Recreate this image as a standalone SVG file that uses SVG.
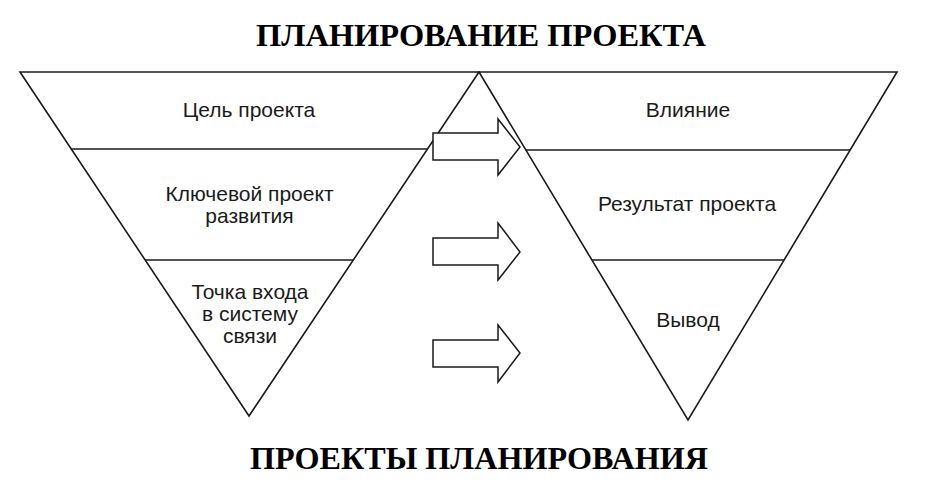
<svg xmlns="http://www.w3.org/2000/svg" width="927" height="488" viewBox="0 0 927 488">
<style>
.ln{fill:none;stroke:#1a1a1a;stroke-width:1.6;stroke-linejoin:miter}
.tri{fill:#fff;stroke:#1a1a1a;stroke-width:1.6;stroke-linejoin:miter}
.arr{fill:#fff;stroke:#1a1a1a;stroke-width:1.5;stroke-linejoin:miter}
.lbl{font-family:"Liberation Sans",Arial,sans-serif;font-size:21px;fill:#1a1a1a;text-anchor:middle}
.ttl{font-family:"Liberation Serif","Times New Roman",serif;font-size:32px;font-weight:bold;fill:#000;text-anchor:middle}
</style>
<rect width="927" height="488" fill="#fff"/>
<text class="ttl" x="481" y="46" textLength="450" lengthAdjust="spacingAndGlyphs">ПЛАНИРОВАНИЕ ПРОЕКТА</text>
<g id="left-triangle">
<polygon class="tri" points="20,72 479,72 249,416"/>
<line class="ln" x1="71" y1="149" x2="428" y2="149"/>
<line class="ln" x1="145" y1="260" x2="353" y2="260"/>
</g>
<g id="right-triangle">
<polygon class="tri" points="479,72 897,72 688,420"/>
<line class="ln" x1="526" y1="150" x2="850" y2="150"/>
<line class="ln" x1="592" y1="260" x2="784" y2="260"/>
</g>
<g id="node-goal"><text class="lbl" x="249" y="117">Цель проекта</text></g>
<g id="node-key"><text class="lbl" x="249.5" y="201">Ключевой проект</text><text class="lbl" x="249.5" y="223">развития</text></g>
<g id="node-entry"><text class="lbl" x="250" y="299">Точка входа</text><text class="lbl" x="250" y="321">в систему</text><text class="lbl" x="250" y="343">связи</text></g>
<g id="node-impact"><text class="lbl" x="688" y="117">Влияние</text></g>
<g id="node-result"><text class="lbl" x="687" y="211">Результат проекта</text></g>
<g id="node-output"><text class="lbl" x="688" y="327">Вывод</text></g>
<g id="connectors">
<polygon class="arr" points="433,133 498,133 498,119 520,147 498,175 498,160 433,160"/>
<polygon class="arr" points="433,238 498,238 498,223 520,252 498,280 498,265 433,265"/>
<polygon class="arr" points="433,340 498,340 498,325 520,353 498,382 498,367 433,367"/>
</g>
<text class="ttl" x="479" y="469" textLength="458" lengthAdjust="spacingAndGlyphs">ПРОЕКТЫ ПЛАНИРОВАНИЯ</text>
</svg>
